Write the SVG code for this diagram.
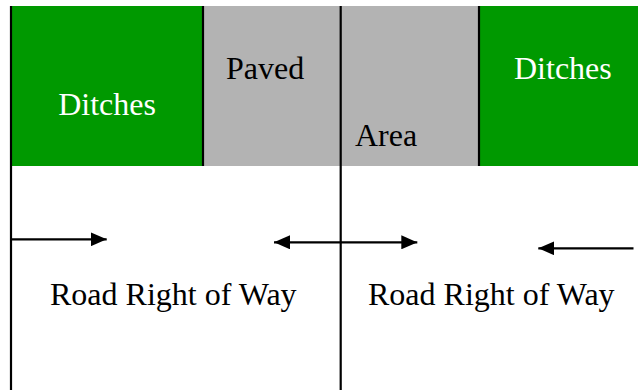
<svg xmlns="http://www.w3.org/2000/svg" width="638" height="390" viewBox="0 0 638 390">
<style>
text{font-family:'Liberation Serif','Times New Roman',Times,serif;font-size:32px}
.w{fill:#ffffff}
.k{fill:#000000}
.ln{stroke:#000;stroke-width:2.2;fill:none}
</style>
<defs>
<marker id="ah" viewBox="0 0 16 14" refX="16" refY="7" markerWidth="16" markerHeight="14" markerUnits="userSpaceOnUse" orient="auto-start-reverse">
<path d="M0,0 L16,7 L0,14 Z" fill="#000"/>
</marker>
</defs>
<rect width="638" height="390" fill="#fff"/>
<g id="ditches-left"><rect x="11" y="6" width="192" height="160" fill="#009900"/><text class="w" x="107" y="115" text-anchor="middle">Ditches</text></g>
<g id="paved-area"><rect x="203" y="6" width="276" height="160" fill="#b3b3b3"/><text class="k" x="226" y="79">Paved</text><text class="k" x="355" y="146">Area</text></g>
<g id="ditches-right"><rect x="479" y="6" width="159" height="160" fill="#009900"/><text class="w" x="514" y="79">Ditches</text></g>
<g id="row-left"><text class="k" x="50" y="305">Road Right of Way</text></g>
<g id="row-right"><text class="k" x="368" y="305">Road Right of Way</text></g>
<g id="connectors">
<line class="ln" x1="11" y1="6" x2="11" y2="390"/>
<line class="ln" x1="203" y1="6" x2="203" y2="166"/>
<line class="ln" x1="479" y1="6" x2="479" y2="166"/>
<line class="ln" x1="340.7" y1="6" x2="340.7" y2="390"/>
<line class="ln" x1="11" y1="239.3" x2="106.7" y2="239.3" marker-end="url(#ah)"/>
<line class="ln" x1="274" y1="242.3" x2="417.3" y2="242.3" marker-start="url(#ah)" marker-end="url(#ah)"/>
<line class="ln" x1="633.5" y1="248.3" x2="538.3" y2="248.3" marker-end="url(#ah)"/>
</g>
</svg>
